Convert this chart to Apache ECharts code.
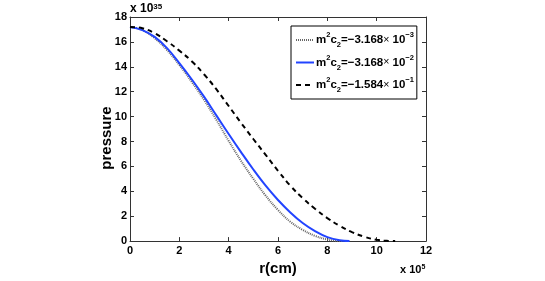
<!DOCTYPE html>
<html><head><meta charset="utf-8">
<script src="https://cdn.jsdelivr.net/npm/echarts@6/dist/echarts.min.js"></script>
<style>html,body{margin:0;padding:0;background:#fff}#c{width:545px;height:281px}</style>
</head><body><div id="c"></div>
<script>
// r in units of 1e5 cm, pressure in units of 1e35
const rA = [0,0.5,1.0,1.5,2.0,2.5,3.0,3.5,4.0,4.5,5.0,5.5,6.0,6.5,7.0,7.5,8.0,8.3,8.6];
const pA = [17.2,16.95,16.3,15.35,14.15,12.8,11.35,9.75,8.05,6.45,5.0,3.65,2.5,1.55,0.9,0.42,0.13,0.04,0];
const rB = [0,0.5,1.0,1.5,2.0,2.5,3.0,3.5,4.0,4.5,5.0,5.5,6.0,6.5,7.0,7.5,8.0,8.5,8.9];
const pB = [17.2,16.95,16.4,15.5,14.3,13.0,11.6,10.1,8.6,7.15,5.75,4.45,3.3,2.3,1.45,0.8,0.32,0.06,0];
const rC = [0,0.5,1.0,1.5,2.0,2.5,3.0,3.5,4.0,4.5,5.0,5.5,6.0,6.5,7.0,7.5,8.0,8.5,9.0,9.5,10.0,10.4,10.75];
const pC = [17.2,17.1,16.7,16.05,15.3,14.45,13.4,12.2,10.85,9.5,8.2,6.93,5.65,4.45,3.45,2.6,1.85,1.22,0.72,0.35,0.1,0.02,0];
const names = ['A','B','C'];
const legendText = {
  A: '{b|m}{sup|2}{b|c}{sub|2}{b|=\u22123.168}{n|\u00d7}{b| 10}{sup|\u22123}',
  B: '{b|m}{sup|2}{b|c}{sub|2}{b|=\u22123.168}{n|\u00d7}{b| 10}{sup|\u22122}',
  C: '{b|m}{sup|2}{b|c}{sub|2}{b|=\u22121.584}{n|\u00d7}{b| 10}{sup|\u22121}'
};
const xTicks = [0,2,4,6,8,10,12];
const yTicks = [0,2,4,6,8,10,12,14,16,18];

const zip = (r,p) => r.map((v,i)=>[v,p[i]]);
const F = 'Liberation Sans, Arial, sans-serif';
const frame = '#333';
const chart = echarts.init(document.getElementById('c'));
const axisCommon = {
  axisLine:{show:true,onZero:false,lineStyle:{color:frame,width:1}},
  axisTick:{show:true,inside:true,length:4,lineStyle:{color:frame}},
  splitLine:{show:false}
};
chart.setOption({
  animation:false,
  backgroundColor:'#fff',
  grid:{left:130,right:119,top:17,bottom:32},
  xAxis:[
    Object.assign({type:'value',min:0,max:12,interval:2,position:'bottom',
      name:'r(cm)',nameLocation:'middle',nameGap:18,
      nameTextStyle:{fontFamily:F,fontWeight:'bold',fontSize:15,color:'#000'},
      axisLabel:{fontFamily:F,fontWeight:'bold',fontSize:11,color:'#000',margin:4,
        formatter:v=>xTicks.includes(v)?String(v):''}},axisCommon),
    Object.assign({type:'value',min:0,max:12,interval:2,position:'top',axisLabel:{show:false}},axisCommon)
  ],
  yAxis:[
    Object.assign({type:'value',min:0,max:18,interval:2,position:'left',
      axisLabel:{fontFamily:F,fontWeight:'bold',fontSize:11,color:'#000',margin:3,
        formatter:v=>yTicks.includes(v)?String(v):''}},axisCommon),
    Object.assign({type:'value',min:0,max:18,interval:2,position:'right',axisLabel:{show:false}},axisCommon)
  ],
  legend:{
    orient:'vertical',left:291,top:26,
    data:names,
    itemWidth:18,itemHeight:10,itemGap:4.5,
    itemStyle:{opacity:0},
    backgroundColor:'#fff',borderColor:'#000',borderWidth:1,
    padding:[5,3,5,4],
    formatter:n=>legendText[n],
    textStyle:{fontFamily:F,fontSize:11.5,color:'#000',padding:[0,0,0,-3],
      rich:{
        b:{fontFamily:F,fontWeight:'bold',fontSize:11.5,color:'#000',verticalAlign:'middle'},
        n:{fontFamily:F,fontSize:10.5,color:'#000',verticalAlign:'middle'},
        sup:{fontFamily:F,fontWeight:'bold',fontSize:7.5,color:'#000',verticalAlign:'top',lineHeight:18},
        sub:{fontFamily:F,fontWeight:'bold',fontSize:7.5,color:'#000',verticalAlign:'bottom',lineHeight:18}
      }}
  },
  graphic:[
    {type:'text',x:107,y:138,rotation:Math.PI/2,style:{
      text:'pressure',fontFamily:F,fontWeight:'bold',fontSize:15,fill:'#000',
      align:'center',verticalAlign:'middle'}},
    {type:'text',left:130,top:3,style:{
      text:'{b|x 10}{s|35}',
      rich:{b:{fontFamily:F,fontWeight:'bold',fontSize:12,color:'#000',verticalAlign:'bottom'},
            s:{fontFamily:F,fontWeight:'bold',fontSize:8,color:'#000',verticalAlign:'top'}}}},
    {type:'text',left:400,top:264,style:{
      text:'{b|x 10}{s|5}',
      rich:{b:{fontFamily:F,fontWeight:'bold',fontSize:11,color:'#000',verticalAlign:'bottom'},
            s:{fontFamily:F,fontWeight:'bold',fontSize:7,color:'#000',verticalAlign:'top'}}}}
  ],
  series:[
    {name:'A',type:'line',data:zip(rA,pA),smooth:0.4,symbol:'none',
      lineStyle:{color:'#666',width:2,type:[1,1]},z:3},
    {name:'B',type:'line',data:zip(rB,pB),smooth:0.4,symbol:'none',
      lineStyle:{color:'#2244ff',width:2},z:4},
    {name:'C',type:'line',data:zip(rC,pC),smooth:0.4,symbol:'none',
      lineStyle:{color:'#000',width:2,type:[5,4]},z:5}
  ]
});
</script></body></html>
